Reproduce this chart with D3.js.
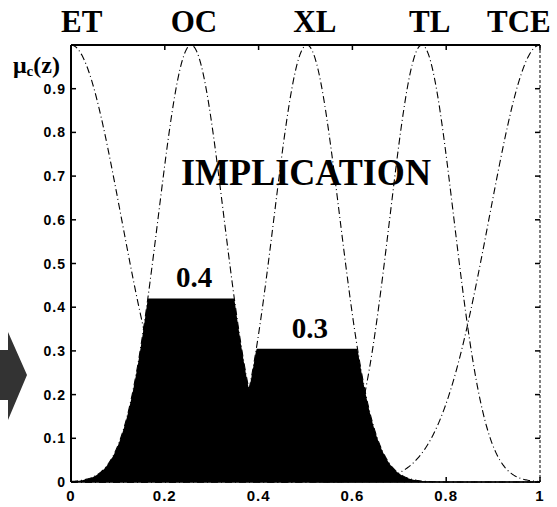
<!DOCTYPE html>
<html>
<head>
<meta charset="utf-8">
<script src="https://cdn.jsdelivr.net/npm/d3@7"></script>
<style>
  html, body { margin: 0; padding: 0; background: #fff; }
  svg { display: block; }
</style>
</head>
<body>
<svg id="chart" width="557" height="507"></svg>
<script>
// ---------- data ----------
const categories = ["ET", "OC", "XL", "TL", "TCE"];
const centers    = [0, 0.256, 0.503, 0.748, 1];
const spreads    = [0.107, 0.070, 0.070, 0.068, 0.108];
const firedSets  = ["OC", "XL"];
const firedLevels = [0.42, 0.305];
const firedLabels = ["0.4", "0.3"];
const yTicks = [0, 0.1, 0.2, 0.3, 0.4, 0.5, 0.6, 0.7, 0.8, 0.9];
const xTicks = [0, 0.2, 0.4, 0.6, 0.8, 1];
const xTickLabels = ["0", "0.2", "0.4", "0.6", "0.8", "1"];
const title = "IMPLICATION";

// ---------- layout ----------
const svg = d3.select("#chart");
const x = d3.scaleLinear().domain([0, 1]).range([71, 540]);
const y = d3.scaleLinear().domain([0, 1]).range([482, 45]);
const catLabelX = [0.023, 0.262, 0.52, 0.765, 0.955];

const mu = (i, v) => Math.exp(-((v - centers[i]) ** 2) / (2 * spreads[i] ** 2));
const grid = d3.range(0, 1.0001, 0.002);

// ---------- filled implication area ----------
const firedIdx = firedSets.map(s => categories.indexOf(s));
const agg = v => d3.max(firedIdx.map((ci, k) => Math.min(mu(ci, v), firedLevels[k])));
svg.append("path")
  .datum(grid)
  .attr("d", d3.area().x(d => x(d)).y0(y(0)).y1(d => y(agg(d))))
  .attr("fill", "#000");

// ---------- membership curves ----------
categories.forEach((c, i) => {
  svg.append("path")
    .datum(grid)
    .attr("d", d3.line().x(d => x(d)).y(d => y(mu(i, d))))
    .attr("fill", "none")
    .attr("stroke", "#000")
    .attr("stroke-width", 1.1)
    .attr("stroke-dasharray", "7,3,1,3");
});

// ---------- frame ----------
const g = svg.append("g");
g.append("line").attr("x1", x(0)).attr("x2", x(1)).attr("y1", y(1)).attr("y2", y(1))
  .attr("stroke", "#000").attr("stroke-width", 2.2);
g.append("line").attr("x1", x(0)).attr("x2", x(0)).attr("y1", y(1)).attr("y2", y(0))
  .attr("stroke", "#000").attr("stroke-width", 2);
g.append("line").attr("x1", x(1)).attr("x2", x(1)).attr("y1", y(1)).attr("y2", y(0))
  .attr("stroke", "#000").attr("stroke-width", 1).attr("stroke-dasharray", "3,2");
g.append("line").attr("x1", x(0)).attr("x2", x(1)).attr("y1", y(0)).attr("y2", y(0))
  .attr("stroke", "#000").attr("stroke-width", 1.3);

// y ticks (inside, both sides)
yTicks.forEach(t => {
  g.append("line").attr("x1", x(0)).attr("x2", x(0) + 5).attr("y1", y(t)).attr("y2", y(t))
    .attr("stroke", "#000").attr("stroke-width", 1.5);
  g.append("line").attr("x1", x(1)).attr("x2", x(1) - 5).attr("y1", y(t)).attr("y2", y(t))
    .attr("stroke", "#000").attr("stroke-width", 1.5);
  g.append("text")
    .attr("x", x(0) - 5).attr("y", y(t) + 5)
    .attr("text-anchor", "end")
    .attr("font-family", "'Liberation Sans', Arial, sans-serif")
    .attr("font-weight", "bold")
    .attr("font-size", 14)
    .attr("letter-spacing", 1)
    .text(d3.format(".1f")(t).replace(/\.0$/, ""));
});

// x ticks (inside, top & bottom)
xTicks.forEach((t, i) => {
  g.append("line").attr("x1", x(t)).attr("x2", x(t)).attr("y1", y(1)).attr("y2", y(1) + 5)
    .attr("stroke", "#000").attr("stroke-width", 1.5);
  g.append("line").attr("x1", x(t)).attr("x2", x(t)).attr("y1", y(0)).attr("y2", y(0) - 5)
    .attr("stroke", "#000").attr("stroke-width", 1.5);
  g.append("text")
    .attr("x", x(t)).attr("y", y(0) + 19)
    .attr("text-anchor", "middle")
    .attr("font-family", "'Liberation Sans', Arial, sans-serif")
    .attr("font-weight", "bold")
    .attr("font-size", 15)
    .attr("letter-spacing", 1)
    .text(xTickLabels[i]);
});

// ---------- category labels ----------
categories.forEach((c, i) => {
  svg.append("text")
    .attr("x", x(catLabelX[i])).attr("y", 32)
    .attr("text-anchor", "middle")
    .attr("font-family", "'Liberation Serif', 'Times New Roman', serif")
    .attr("font-weight", "bold")
    .attr("font-size", 31)
    .text(c);
});

// y-axis label mu_c(z)
const yl = svg.append("text")
  .attr("x", 13).attr("y", 73)
  .attr("font-family", "'Liberation Serif', 'Times New Roman', serif")
  .attr("font-weight", "bold")
  .attr("font-size", 24);
yl.append("tspan").text("μ");
yl.append("tspan").attr("font-size", 15).attr("dy", 3).text("c");
yl.append("tspan").attr("dy", -3).text("(z)");

// title
svg.append("text")
  .attr("x", 306).attr("y", 185)
  .attr("text-anchor", "middle")
  .attr("font-family", "'Liberation Serif', 'Times New Roman', serif")
  .attr("font-weight", "bold")
  .attr("font-size", 37)
  .attr("textLength", 250)
  .attr("lengthAdjust", "spacingAndGlyphs")
  .text(title);

// fired level labels
firedIdx.forEach((ci, k) => {
  svg.append("text")
    .attr("x", x(centers[ci]) + 3).attr("y", y(firedLevels[k]) - 11)
    .attr("text-anchor", "middle")
    .attr("font-family", "'Liberation Serif', 'Times New Roman', serif")
    .attr("font-weight", "bold")
    .attr("font-size", 29)
    .text(firedLabels[k]);
});

// ---------- block arrow on the left ----------
svg.append("path")
  .attr("d", "M0,350 L8,350 L8,332 L27,375 L8,420 L8,400 L0,400 Z")
  .attr("fill", "#333");
</script>
</body>
</html>
